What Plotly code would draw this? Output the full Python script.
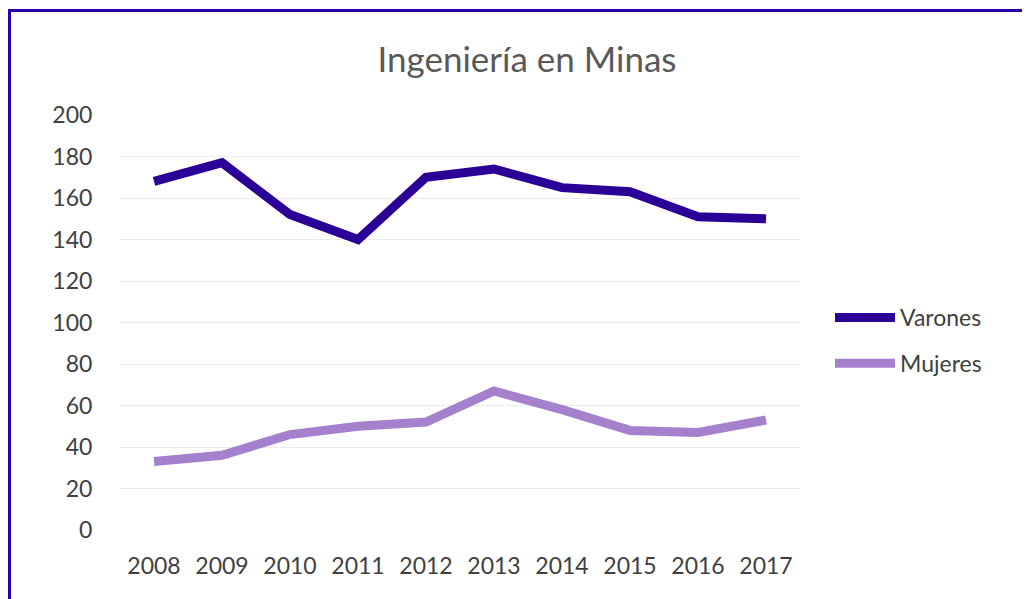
import plotly.graph_objects as go

years = ["2008", "2009", "2010", "2011", "2012", "2013", "2014", "2015", "2016", "2017"]
varones = [168, 177, 152, 140, 170, 174, 165, 163, 151, 150]
mujeres = [33, 36, 46, 50, 52, 67, 58, 48, 47, 53]
y_ticks = [0, 20, 40, 60, 80, 100, 120, 140, 160, 180, 200]

OFF = 8  # page body margin in the browser
W, H = 1030 - OFF, 599 - OFF

def fx(px):
    return px - OFF

L = fx(120)
T = fx(115)
R = W - fx(800)
B = H - fx(530)
pw, ph = W - L - R, H - T - B

def px_x(px):
    return (fx(px) - L) / pw

def px_y(py):
    return (H - B - fx(py)) / ph

fig = go.Figure()
fig.add_trace(go.Scatter(x=years, y=varones, mode="lines", name="Varones",
                         legendgroup="v",
                         line=dict(color="#2b0096", width=9)))
fig.add_trace(go.Scatter(x=years, y=mujeres, mode="lines", name="Mujeres",
                         legendgroup="m",
                         line=dict(color="#a580cc", width=9)))

font_family = "Lato, 'Open Sans', sans-serif"
fig.update_layout(
    width=W, height=H,
    margin=dict(l=L, r=R, t=T, b=B, autoexpand=False),
    paper_bgcolor="white", plot_bgcolor="white",
    title=dict(text="Ingeniería en Minas", x=fx(527) / W, xanchor="center",
               y=1 - fx(60) / H, yanchor="middle", yref="container",
               font=dict(family=font_family, size=35, color="#595959")),
    font=dict(family=font_family, size=23, color="#404040"),
    showlegend=True,
    legend=dict(x=px_x(830), y=px_y(296), xanchor="left", yanchor="top",
                font=dict(size=23, color="#404040"), tracegroupgap=13,
                itemwidth=60, bgcolor="rgba(0,0,0,0)"),
    xaxis=dict(type="category", range=[-0.5, 9.5], showgrid=False, showline=False,
               zeroline=False,
               ticks="outside", ticklen=15, tickcolor="rgba(0,0,0,0)",
               tickfont=dict(size=23, color="#404040")),
    yaxis=dict(range=[0, 200], tickvals=y_ticks, showgrid=True, gridcolor="#ececec",
               gridwidth=1, zeroline=False, showline=False,
               ticks="outside", ticklen=22, tickcolor="rgba(0,0,0,0)",
               tickfont=dict(size=23, color="#404040")),
    shapes=[
        dict(type="line", xref="paper", yref="paper", x0=px_x(9.5), x1=px_x(9.5),
             y0=px_y(9), y1=px_y(610), line=dict(color="#2b00a8", width=3)),
        dict(type="line", xref="paper", yref="paper", x0=px_x(8), x1=px_x(1040),
             y0=px_y(10.5), y1=px_y(10.5), line=dict(color="#2b00a8", width=3)),
    ],
)

fig.write_html("out.html")
